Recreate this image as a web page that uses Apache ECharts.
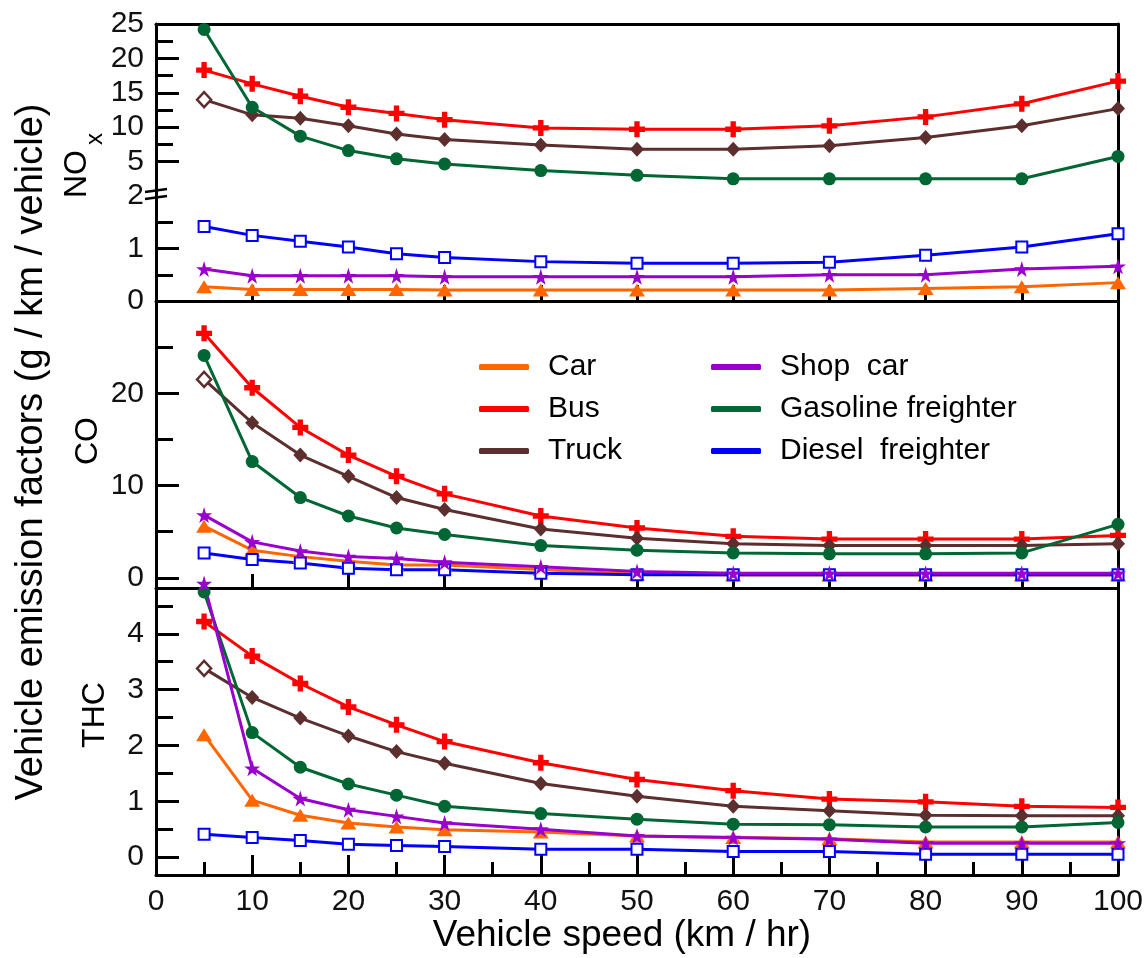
<!DOCTYPE html>
<html>
<head>
<meta charset="utf-8">
<script src="https://cdn.jsdelivr.net/npm/echarts@6/dist/echarts.min.js"></script>
<style>
  html, body { margin: 0; padding: 0; background: #fff; }
  #chart { width: 1148px; height: 958px; }
</style>
</head>
<body>
<div id="chart"></div>
<script>
// Vehicle speeds (km/hr) at which the emission factors are given
const speeds = [5, 10, 15, 20, 25, 30, 40, 50, 60, 70, 80, 90, 100];

// NOx emission factors (g / km / vehicle)
const noxCar      = [0.27, 0.22, 0.22, 0.22, 0.22, 0.21, 0.21, 0.21, 0.21, 0.21, 0.24, 0.27, 0.35];
const noxBus      = [18.3, 16.3, 14.5, 12.9, 12.0, 11.1, 9.9, 9.7, 9.7, 10.2, 11.5, 13.4, 16.7];
const noxTruck    = [14.0, 11.8, 11.3, 10.2, 9.0, 8.2, 7.4, 6.8, 6.8, 7.3, 8.5, 10.2, 12.7];
const noxShopCar  = [0.61, 0.48, 0.48, 0.48, 0.48, 0.46, 0.46, 0.46, 0.46, 0.50, 0.50, 0.61, 0.66];
const noxGasoline = [24.2, 12.9, 8.7, 6.6, 5.4, 4.65, 3.7, 3.0, 2.5, 2.5, 2.5, 2.5, 5.75];
const noxDiesel   = [1.42, 1.25, 1.14, 1.03, 0.90, 0.83, 0.75, 0.72, 0.72, 0.74, 0.87, 1.03, 1.28];

// CO emission factors (g / km / vehicle)
const coCar      = [5.6, 3.0, 2.3, 1.8, 1.4, 1.4, 0.9, 0.4, 0.3, 0.3, 0.3, 0.3, 0.3];
const coBus      = [26.5, 20.6, 16.3, 13.3, 11.0, 9.1, 6.7, 5.4, 4.5, 4.2, 4.2, 4.2, 4.6];
const coTruck    = [21.5, 16.8, 13.3, 11.0, 8.7, 7.4, 5.3, 4.3, 3.7, 3.5, 3.5, 3.5, 3.7];
const coShopCar  = [6.8, 3.9, 2.9, 2.3, 2.1, 1.7, 1.2, 0.7, 0.5, 0.5, 0.5, 0.5, 0.5];
const coGasoline = [24.1, 12.6, 8.7, 6.7, 5.4, 4.7, 3.5, 3.0, 2.7, 2.6, 2.6, 2.7, 5.8];
const coDiesel   = [2.7, 2.0, 1.6, 1.05, 0.87, 0.87, 0.5, 0.33, 0.33, 0.33, 0.33, 0.33, 0.33];

// THC emission factors (g / km / vehicle)
const thcCar      = [2.19, 1.02, 0.75, 0.61, 0.54, 0.49, 0.45, 0.38, 0.35, 0.33, 0.27, 0.27, 0.27];
const thcBus      = [4.22, 3.60, 3.11, 2.69, 2.37, 2.07, 1.69, 1.39, 1.19, 1.04, 0.99, 0.91, 0.89];
const thcTruck    = [3.38, 2.86, 2.49, 2.17, 1.89, 1.68, 1.32, 1.09, 0.91, 0.83, 0.75, 0.74, 0.74];
const thcShopCar  = [4.90, 1.59, 1.05, 0.85, 0.73, 0.61, 0.50, 0.38, 0.35, 0.32, 0.25, 0.25, 0.25];
const thcGasoline = [4.75, 2.23, 1.61, 1.31, 1.11, 0.91, 0.78, 0.68, 0.59, 0.58, 0.54, 0.54, 0.62];
const thcDiesel   = [0.41, 0.35, 0.30, 0.23, 0.21, 0.19, 0.14, 0.14, 0.10, 0.10, 0.05, 0.05, 0.05];

// Axis tick positions and labels
const speedTickStep = 10;
const noxHighTicks  = [5, 10, 15, 20];
const noxHighMinor  = [7.5, 12.5, 17.5, 22.5];
const noxHighLabels = [5, 10, 15, 20, 25];
const noxLowTicks   = [0, 1];
const noxLowMinor   = [0.5, 1.5];
const noxLowLabels  = [0, 1, 2];
const coTicks       = [0, 10, 20];
const coMinor       = [5, 15, 25];
const coLabels      = [0, 10, 20];
const thcTicks      = [0, 1, 2, 3, 4];
const thcMinor      = [0.5, 1.5, 2.5, 3.5, 4.5];
const thcLabels     = [0, 1, 2, 3, 4];

// Legend entries
const legendLeft  = ['Car', 'Bus', 'Truck'];
const legendRight = ['Shop  car', 'Gasoline freighter', 'Diesel  freighter'];

// ---------------------------------------------------------------------------
const FONT = '"Liberation Sans", Arial, Helvetica, sans-serif';
const INK = '#000';
const LABEL_INK = '#111';

const STYLE = {
  'Car':                { color: '#ff6600', symbol: 'triangle', size: [16, 13] },
  'Bus':                { color: '#ff0000', symbol: 'path://M5,0H10V5H15V10H10V15H5V10H0V5H5Z', size: 16 },
  'Truck':              { color: '#5c2e2e', symbol: 'diamond', size: [14, 15], hollowFirst: true },
  'Shop  car':          { color: '#9900cc', symbol: 'path://M50,0L61,35H98L68,57L79,91L50,70L21,91L32,57L2,35H39Z', size: 16 },
  'Gasoline freighter': { color: '#006633', symbol: 'circle', size: 13 },
  'Diesel  freighter':  { color: '#0000ff', symbol: 'rect', size: 11, hollow: true }
};

const axisLine = { show: true, onZero: false, lineStyle: { color: INK, width: 3 } };
const tickLine = { color: INK, width: 3 };
const labelText = { color: LABEL_INK, fontFamily: FONT, fontSize: 30 };

const grids = [], xAxes = [], yAxes = [], series = [];

function addPanel(p) {
  const g = grids.length;
  grids.push({ show: false, left: 156, right: 30, top: p.top, height: p.height });

  const xi = xAxes.length;
  xAxes.push({
    type: 'value', gridIndex: g, min: 0, max: 100, interval: speedTickStep,
    position: p.xPos || 'bottom',
    axisLine: axisLine,
    axisTick: p.xTick ? { show: true, inside: true, length: p.xTick, lineStyle: tickLine } : { show: false },
    minorTick: p.xMinor ? { show: true, splitNumber: 2, length: p.xMinor, lineStyle: tickLine } : { show: false },
    axisLabel: p.xLabels ? Object.assign({ show: true, margin: 12 }, labelText) : { show: false },
    splitLine: { show: false }
  });

  const yi = yAxes.length;
  // left axis: major ticks with labels
  yAxes.push({
    type: 'value', gridIndex: g, position: 'left', min: p.min, max: p.max,
    axisLine: axisLine,
    axisTick: { show: true, inside: true, length: 23, customValues: p.ticks, lineStyle: tickLine },
    axisLabel: Object.assign({ show: true, margin: 12, customValues: p.labels }, labelText),
    splitLine: { show: false }
  });
  // left axis: minor ticks only
  yAxes.push({
    type: 'value', gridIndex: g, position: 'left', min: p.min, max: p.max,
    axisLine: { show: false },
    axisTick: { show: true, inside: true, length: 17, customValues: p.minor, lineStyle: tickLine },
    axisLabel: { show: false },
    splitLine: { show: false }
  });
  // right frame line
  yAxes.push({
    type: 'value', gridIndex: g, position: 'right', min: p.min, max: p.max,
    axisLine: axisLine, axisTick: { show: false }, axisLabel: { show: false },
    splitLine: { show: false }
  });
  return { xi: xi, yi: yi };
}

function addLine(name, values, axes) {
  const st = STYLE[name];
  const data = speeds.map(function (s, i) {
    const item = { value: [s, values[i]] };
    if (st.hollowFirst && i === 0) {
      item.itemStyle = { color: '#fff', borderColor: st.color, borderWidth: 2.5 };
    }
    return item;
  });
  series.push({
    type: 'line', name: name, xAxisIndex: axes.xi, yAxisIndex: axes.yi,
    data: data, clip: false, showAllSymbol: true,
    symbol: st.symbol, symbolSize: st.size,
    lineStyle: { color: st.color, width: 3 },
    itemStyle: st.hollow
      ? { color: '#fff', borderColor: st.color, borderWidth: 2 }
      : { color: st.color, borderWidth: 0 },
    emphasis: { disabled: true },
    z: 2
  });
}

// NOx panel, split into a compressed upper scale and an expanded lower scale
const noxHigh = addPanel({ top: 24, height: 172, min: 0, max: 25, xPos: 'top',
  ticks: noxHighTicks, minor: noxHighMinor, labels: noxHighLabels });
const noxLow = addPanel({ top: 196, height: 105, min: 0, max: 2, xTick: 16,
  ticks: noxLowTicks, minor: noxLowMinor, labels: noxLowLabels });
// CO panel
const coAx = addPanel({ top: 301, height: 287, min: -1.1, max: 30, xTick: 14,
  ticks: coTicks, minor: coMinor, labels: coLabels });
// THC panel
const thcAx = addPanel({ top: 588, height: 287, min: -0.32, max: 4.82, xTick: 20, xMinor: 13, xLabels: true,
  ticks: thcTicks, minor: thcMinor, labels: thcLabels });

addLine('Car', noxCar, noxLow);
addLine('Bus', noxBus, noxHigh);
addLine('Truck', noxTruck, noxHigh);
addLine('Diesel  freighter', noxDiesel, noxLow);
addLine('Gasoline freighter', noxGasoline, noxHigh);
addLine('Shop  car', noxShopCar, noxLow);

addLine('Car', coCar, coAx);
addLine('Bus', coBus, coAx);
addLine('Truck', coTruck, coAx);
addLine('Diesel  freighter', coDiesel, coAx);
addLine('Gasoline freighter', coGasoline, coAx);
addLine('Shop  car', coShopCar, coAx);

addLine('Car', thcCar, thcAx);
addLine('Bus', thcBus, thcAx);
addLine('Truck', thcTruck, thcAx);
addLine('Diesel  freighter', thcDiesel, thcAx);
addLine('Gasoline freighter', thcGasoline, thcAx);
addLine('Shop  car', thcShopCar, thcAx);

function legendBlock(names, left) {
  return {
    orient: 'vertical', left: left, top: 347,
    icon: 'roundRect', itemWidth: 50, itemHeight: 6, itemGap: 12,
    selectedMode: false,
    data: names.map(function (n) {
      return { name: n, itemStyle: { color: STYLE[n].color, borderWidth: 0 } };
    }),
    textStyle: { color: INK, fontFamily: FONT, fontSize: 30, lineHeight: 30, padding: [0, 0, 0, 14] }
  };
}

function rotatedText(id, text, x, y, size) {
  return {
    type: 'text', id: id, x: x, y: y, rotation: Math.PI / 2, z: 10,
    style: { text: text, font: size + 'px ' + FONT, fill: INK,
             align: 'center', verticalAlign: 'middle',
             textAlign: 'center', textVerticalAlign: 'middle' }
  };
}

const chart = echarts.init(document.getElementById('chart'), null, { renderer: 'canvas' });
chart.setOption({
  animation: false,
  backgroundColor: '#fff',
  grid: grids,
  xAxis: xAxes,
  yAxis: yAxes,
  legend: [legendBlock(legendLeft, 474), legendBlock(legendRight, 706)],
  series: series
});

// axis-break mark where the two NOx scales meet
const bp = chart.convertToPixel({ xAxisIndex: noxLow.xi, yAxisIndex: noxLow.yi }, [0, 2]);

chart.setOption({
  graphic: [
    rotatedText('yTitle', 'Vehicle emission factors (g / km / vehicle)', 32, 452, 38),
    rotatedText('noxMain', 'NO', 77, 174, 32),
    rotatedText('noxSub', 'x', 95, 139, 24),
    rotatedText('coTitle', 'CO', 88, 441, 32),
    rotatedText('thcTitle', 'THC', 95, 715, 32),
    {
      type: 'text', id: 'xTitle', x: 622, y: 936, z: 10,
      style: { text: 'Vehicle speed (km / hr)', font: '37px ' + FONT, fill: INK,
               align: 'center', verticalAlign: 'middle',
               textAlign: 'center', textVerticalAlign: 'middle' }
    },
    {
      type: 'group', id: 'axisBreak', x: bp[0], y: bp[1], z: 20,
      children: [
        { type: 'polygon', shape: { points: [[-11, -3], [11, -6], [11, 1], [-11, 4]] }, style: { fill: '#fff' } },
        { type: 'line', shape: { x1: -11, y1: -4, x2: 11, y2: -7 }, style: { stroke: INK, lineWidth: 2.5 } },
        { type: 'line', shape: { x1: -11, y1: 3, x2: 11, y2: 0 }, style: { stroke: INK, lineWidth: 2.5 } }
      ]
    }
  ]
});
</script>
</body>
</html>
